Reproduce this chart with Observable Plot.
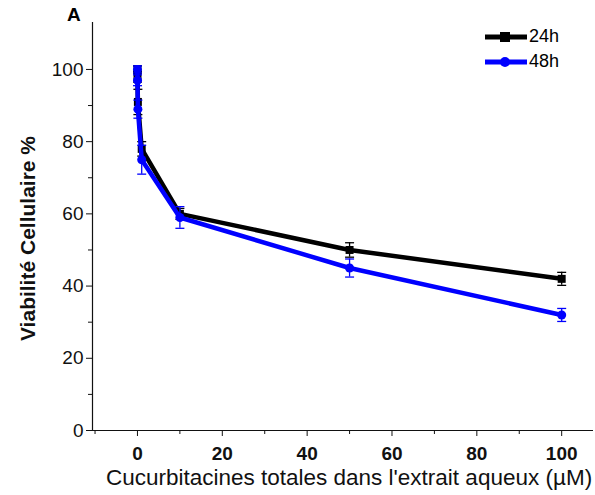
<!DOCTYPE html>
<html><head><meta charset="utf-8">
<script src="https://cdn.jsdelivr.net/npm/d3@7"></script>
<script src="https://cdn.jsdelivr.net/npm/@observablehq/plot@0.6"></script>
<style>
body{margin:0;background:#fff;font-family:"Liberation Sans",Arial,sans-serif;}
#wrap{position:relative;width:595px;height:495px;overflow:hidden;}
#panel{position:absolute;left:67px;top:4px;font-weight:bold;font-size:19px;}
#legend{position:absolute;left:484px;top:24px;font-size:18px;}
#legend div{display:flex;align-items:center;height:25px;}
#legend span{margin-left:1px;}
</style></head>
<body><div id="wrap"><div id="panel">A</div><div id="legend"></div></div>
<script>
const conc = [0, 0.01, 0.1, 1, 10, 50, 100];
const via24 = [100, 98, 91, 78, 60, 50, 42];
const err24 = [1, 1.5, 3.5, 2, 1.5, 2, 1.8];
const via48 = [100, 97, 89, 75, 59, 45, 32];
const err48 = [1, 1.5, 2.5, 4, 3, 2.5, 1.8];
const seriesNames = ["24h", "48h"];
const seriesColors = ["#000000", "#0000ff"];
const xMajor = [0, 20, 40, 60, 80, 100];
const xMinor = [-10, 10, 30, 50, 70, 90];
const yMajor = [0, 20, 40, 60, 80, 100];
const yMinor = [10, 30, 50, 70, 90];

const data = [];
[[via24, err24], [via48, err48]].forEach(([v, e], s) => {
  conc.forEach((c, i) => data.push({series: seriesNames[s], x: c, y: v[i], e: e[i]}));
});
const d24 = data.filter(d => d.series === "24h");
const d48 = data.filter(d => d.series === "48h");
const capSym = {draw(ctx, size){ const w = Math.sqrt(size / Math.PI); ctx.moveTo(-w, 0); ctx.lineTo(w, 0); }};

function layer(ds, color, symbol, r) {
  return [
    Plot.line(ds, {x: "x", y: "y", stroke: color, strokeWidth: 4.5}),
    Plot.ruleX(ds, {x: "x", y1: d => d.y - d.e, y2: d => d.y + d.e, stroke: color, strokeWidth: 1.3}),
    Plot.dot(ds, {x: "x", y: d => d.y + d.e, symbol: capSym, r: 4.5, stroke: color, strokeWidth: 1.3}),
    Plot.dot(ds, {x: "x", y: d => d.y - d.e, symbol: capSym, r: 4.5, stroke: color, strokeWidth: 1.3}),
    Plot.dot(ds, {x: "x", y: "y", symbol, r, fill: color, stroke: "none"})
  ];
}

const chart = Plot.plot({
  width: 595, height: 495,
  marginLeft: 92, marginRight: 2, marginTop: 22, marginBottom: 65,
  style: {fontFamily: "'Liberation Sans', Arial, sans-serif", background: "transparent", color: "#111", overflow: "visible"},
  x: {domain: [-10.6, 107.5], label: null},
  y: {domain: [0, 113], label: null},
  marks: [
    Plot.ruleY([0], {stroke: "#111", strokeWidth: 1.2}),
    Plot.ruleX([-10.6], {stroke: "#111", strokeWidth: 1.2}),
    Plot.axisX(xMajor, {tickSize: 6, tickPadding: 10, fontSize: 19, fontWeight: "bold", label: null}),
    Plot.axisX(xMinor, {tickSize: 4, tickFormat: () => "", label: null}),
    Plot.axisY(yMajor, {tickSize: 6, tickPadding: 3, fontSize: 19, label: null}),
    Plot.axisY(yMinor, {tickSize: 4, tickFormat: () => "", label: null}),
    ...layer(d24, seriesColors[0], "square", 4.5),
    ...layer(d48, seriesColors[1], "circle", 4.5),
    Plot.text(["Viabilité Cellulaire %"], {frameAnchor: "left", textAnchor: "middle", dx: -64, dy: 12, rotate: -90, fontSize: 21, fontWeight: "bold", fill: "#111"}),
    Plot.text(["Cucurbitacines totales dans l'extrait aqueux (µM)"], {frameAnchor: "bottom", dy: 54, dx: 6, fontSize: 22.5, fill: "#111"})
  ]
});
document.getElementById("wrap").appendChild(chart);

const legend = document.getElementById("legend");
seriesNames.forEach((n, i) => {
  const row = document.createElement("div");
  const shape = i === 0
    ? `<rect x="16" y="3" width="10" height="10" fill="${seriesColors[i]}"/>`
    : `<circle cx="21" cy="8" r="5" fill="${seriesColors[i]}"/>`;
  row.innerHTML = `<svg width="44" height="16"><line x1="1" y1="8" x2="43" y2="8" stroke="${seriesColors[i]}" stroke-width="5"/>${shape}</svg><span>${n}</span>`;
  legend.appendChild(row);
});
</script></body></html>
